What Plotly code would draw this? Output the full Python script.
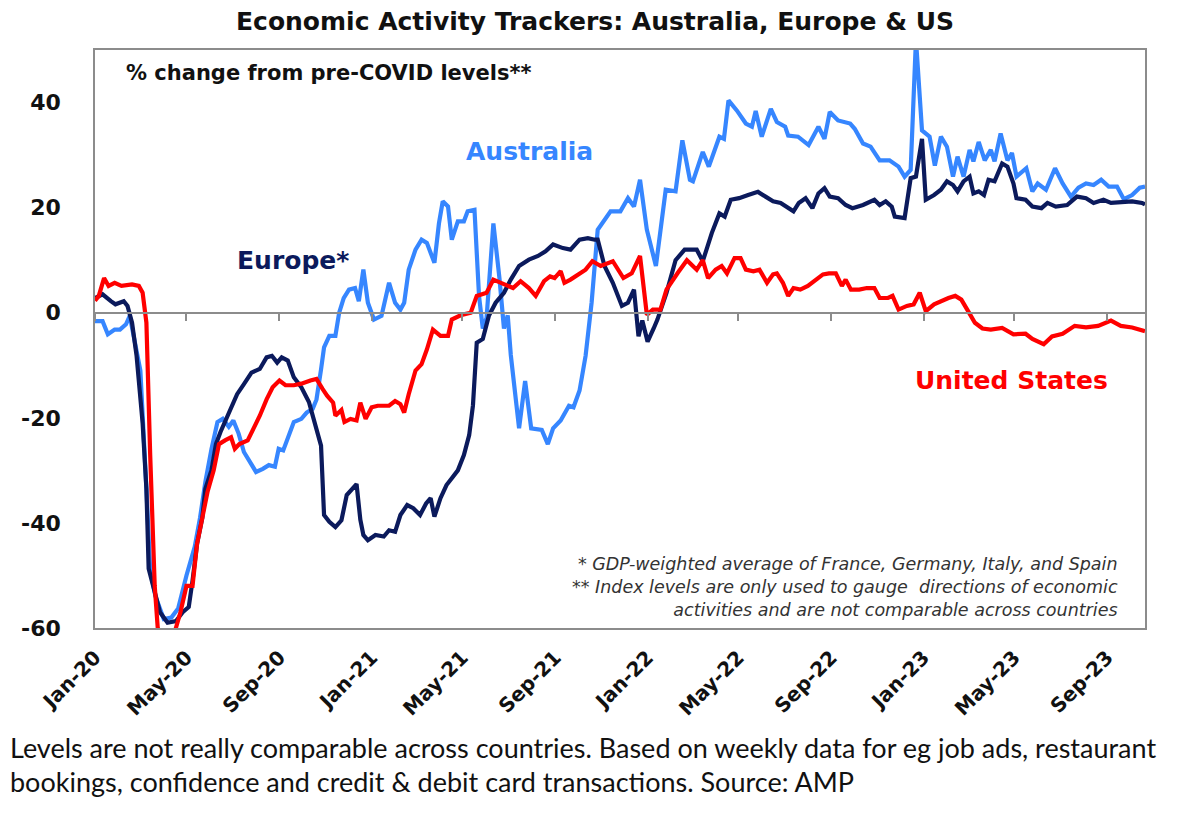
import plotly.graph_objects as go

# ---------------- data ----------------
AUSTRALIA = [
    ("2020-01-01", -1.6), ("2020-01-11", -1.6), ("2020-01-18", -4.1), ("2020-01-27", -3.2),
    ("2020-02-03", -3.2), ("2020-02-11", -2.2), ("2020-02-16", -0.6), ("2020-02-21", -4.0),
    ("2020-03-01", -11.0), ("2020-03-09", -33.5), ("2020-03-14", -49.0), ("2020-03-21", -54.0),
    ("2020-04-01", -58.3), ("2020-04-11", -58.0), ("2020-04-20", -56.3), ("2020-05-01", -50.0),
    ("2020-05-12", -44.5), ("2020-05-19", -39.0), ("2020-05-26", -32.2), ("2020-06-03", -26.0),
    ("2020-06-11", -20.8), ("2020-06-18", -20.2), ("2020-06-26", -21.7), ("2020-07-02", -20.5),
    ("2020-07-09", -23.0), ("2020-07-16", -26.5), ("2020-07-24", -28.4), ("2020-08-01", -30.3),
    ("2020-08-10", -29.7), ("2020-08-18", -29.0), ("2020-08-26", -29.3), ("2020-08-31", -25.9),
    ("2020-09-06", -26.2), ("2020-09-14", -23.3), ("2020-09-20", -20.8), ("2020-09-30", -20.2),
    ("2020-10-07", -19.0), ("2020-10-15", -18.3), ("2020-10-20", -16.5), ("2020-10-26", -10.8),
    ("2020-10-30", -6.6), ("2020-11-06", -4.4), ("2020-11-14", -4.4), ("2020-11-19", 0.0),
    ("2020-11-25", 2.8), ("2020-12-02", 4.4), ("2020-12-10", 4.7), ("2020-12-15", 2.2),
    ("2020-12-21", 8.2), ("2020-12-27", 1.9),
    ("2021-01-04", -1.3), ("2021-01-14", -0.6), ("2021-01-24", 5.7), ("2021-02-01", 1.9),
    ("2021-02-08", 0.6), ("2021-02-13", 1.9), ("2021-02-19", 8.2), ("2021-02-28", 12.0),
    ("2021-03-08", 13.9), ("2021-03-15", 13.3), ("2021-03-25", 9.5), ("2021-03-31", 17.0),
    ("2021-04-05", 21.2), ("2021-04-12", 20.2), ("2021-04-17", 13.9), ("2021-04-25", 17.4),
    ("2021-05-03", 17.4), ("2021-05-08", 19.3), ("2021-05-17", 19.6), ("2021-05-23", 3.2),
    ("2021-05-28", -3.0), ("2021-06-02", -1.0), ("2021-06-11", 17.0), ("2021-06-19", 6.6),
    ("2021-06-25", -3.0), ("2021-06-30", -0.5), ("2021-07-04", -8.0), ("2021-07-15", -22.0),
    ("2021-07-23", -13.0), ("2021-07-31", -22.0), ("2021-08-14", -22.3), ("2021-08-22", -25.0),
    ("2021-08-29", -22.0), ("2021-09-08", -20.5), ("2021-09-19", -17.7), ("2021-09-25", -18.0),
    ("2021-10-03", -14.8), ("2021-10-11", -8.2), ("2021-10-19", 2.0), ("2021-10-27", 15.8),
    ("2021-11-13", 19.3), ("2021-11-26", 19.3), ("2021-12-06", 21.8), ("2021-12-14", 20.2),
    ("2021-12-22", 25.3), ("2021-12-31", 15.8),
    ("2022-01-12", 8.9), ("2022-01-25", 23.4), ("2022-02-07", 23.1), ("2022-02-16", 32.8),
    ("2022-02-26", 25.3), ("2022-03-02", 25.0), ("2022-03-15", 30.6), ("2022-03-23", 27.8),
    ("2022-04-06", 33.5), ("2022-04-12", 33.1), ("2022-04-18", 40.4), ("2022-04-29", 38.5),
    ("2022-05-11", 36.0), ("2022-05-19", 35.4), ("2022-05-24", 38.4), ("2022-06-01", 33.5),
    ("2022-06-13", 38.8), ("2022-06-21", 36.3), ("2022-07-02", 35.4), ("2022-07-06", 33.7),
    ("2022-07-19", 33.5), ("2022-08-02", 31.9), ("2022-08-15", 35.4), ("2022-08-23", 33.1),
    ("2022-08-30", 38.2), ("2022-09-10", 36.6), ("2022-09-26", 36.0), ("2022-10-02", 35.0),
    ("2022-10-13", 32.2), ("2022-10-23", 31.6), ("2022-11-04", 29.0), ("2022-11-17", 29.0),
    ("2022-11-29", 27.8), ("2022-12-07", 25.9), ("2022-12-15", 27.2), ("2022-12-22", 52.0),
    ("2022-12-30", 34.7),
    ("2023-01-09", 33.5), ("2023-01-16", 28.0), ("2023-01-24", 33.5), ("2023-02-01", 31.6),
    ("2023-02-09", 25.9), ("2023-02-15", 29.7), ("2023-02-23", 25.9), ("2023-03-03", 31.0),
    ("2023-03-08", 28.8), ("2023-03-15", 32.5), ("2023-03-23", 29.0), ("2023-03-31", 31.0),
    ("2023-04-05", 28.8), ("2023-04-13", 34.1), ("2023-04-22", 29.0), ("2023-04-28", 30.4),
    ("2023-05-04", 25.9), ("2023-05-17", 27.5), ("2023-05-25", 23.1), ("2023-06-01", 24.6),
    ("2023-06-12", 23.4), ("2023-06-24", 27.5), ("2023-07-04", 24.6), ("2023-07-15", 22.1),
    ("2023-07-25", 23.8), ("2023-08-04", 24.6), ("2023-08-14", 24.3), ("2023-08-24", 25.3),
    ("2023-09-03", 24.0), ("2023-09-14", 24.0), ("2023-09-23", 21.6), ("2023-10-04", 22.4),
    ("2023-10-14", 23.8), ("2023-10-21", 24.0),
]

EUROPE = [
    ("2020-01-01", 2.8), ("2020-01-11", 3.5), ("2020-01-22", 2.2), ("2020-01-28", 1.6),
    ("2020-02-08", 2.2), ("2020-02-13", 1.3), ("2020-02-19", -1.9), ("2020-02-25", -8.2),
    ("2020-03-04", -21.0), ("2020-03-09", -33.5), ("2020-03-12", -48.7), ("2020-03-20", -53.0),
    ("2020-03-27", -57.0), ("2020-04-06", -59.0), ("2020-04-17", -58.7), ("2020-04-26", -57.0),
    ("2020-05-04", -56.0), ("2020-05-09", -51.0), ("2020-05-15", -44.0), ("2020-05-22", -39.0),
    ("2020-05-26", -33.5), ("2020-06-03", -30.0), ("2020-06-09", -25.0), ("2020-06-15", -22.7),
    ("2020-06-26", -19.0), ("2020-07-07", -15.5), ("2020-07-16", -13.6), ("2020-07-26", -11.4),
    ("2020-08-06", -10.7), ("2020-08-15", -8.5), ("2020-08-22", -8.2), ("2020-08-29", -9.5),
    ("2020-09-04", -8.5), ("2020-09-12", -9.1), ("2020-09-20", -12.3), ("2020-09-30", -14.2),
    ("2020-10-10", -17.0), ("2020-10-18", -21.0), ("2020-10-26", -25.3), ("2020-10-30", -38.5),
    ("2020-11-06", -39.8), ("2020-11-14", -40.8), ("2020-11-22", -39.5), ("2020-11-29", -34.7),
    ("2020-12-12", -32.6), ("2020-12-17", -39.4), ("2020-12-21", -42.3), ("2020-12-27", -43.3),
    ("2021-01-06", -42.3), ("2021-01-17", -42.6), ("2021-01-24", -41.4), ("2021-02-01", -41.7),
    ("2021-02-08", -38.5), ("2021-02-17", -36.6), ("2021-02-25", -37.2), ("2021-03-06", -38.5),
    ("2021-03-14", -36.3), ("2021-03-20", -35.3), ("2021-03-25", -38.8), ("2021-04-02", -35.3),
    ("2021-04-10", -32.8), ("2021-04-17", -31.5), ("2021-04-25", -30.0), ("2021-05-03", -27.1),
    ("2021-05-10", -23.3), ("2021-05-15", -17.6), ("2021-05-20", -5.7), ("2021-05-28", -5.0),
    ("2021-06-02", -1.9), ("2021-06-05", -0.6), ("2021-06-14", 1.9), ("2021-06-25", 3.8),
    ("2021-07-04", 6.3), ("2021-07-15", 8.9), ("2021-07-28", 10.1), ("2021-08-09", 10.8),
    ("2021-08-19", 11.7), ("2021-08-29", 13.0), ("2021-09-11", 12.3), ("2021-09-21", 12.0),
    ("2021-10-03", 13.9), ("2021-10-14", 14.2), ("2021-10-23", 13.9), ("2021-10-27", 13.9),
    ("2021-11-05", 8.9), ("2021-11-16", 5.7), ("2021-11-28", 1.3), ("2021-12-06", 1.9),
    ("2021-12-14", 4.4), ("2021-12-20", -4.5), ("2021-12-25", -1.5),
    ("2022-01-01", -5.5), ("2022-01-09", -3.0), ("2022-01-14", -1.3), ("2022-01-26", 3.8),
    ("2022-02-07", 10.0), ("2022-02-19", 12.0), ("2022-03-07", 12.0), ("2022-03-15", 9.8),
    ("2022-03-22", 13.3), ("2022-03-27", 15.2), ("2022-04-06", 18.9), ("2022-04-13", 18.3),
    ("2022-04-21", 21.5), ("2022-05-02", 21.8), ("2022-05-14", 22.4), ("2022-05-27", 23.0),
    ("2022-06-06", 22.1), ("2022-06-16", 21.2), ("2022-06-26", 20.9), ("2022-07-06", 19.9),
    ("2022-07-13", 19.3), ("2022-07-20", 20.9), ("2022-07-29", 21.8), ("2022-08-07", 19.9),
    ("2022-08-15", 22.7), ("2022-08-23", 23.7), ("2022-08-30", 22.1), ("2022-09-10", 21.8),
    ("2022-09-20", 20.5), ("2022-09-29", 19.9), ("2022-10-13", 20.5), ("2022-10-28", 21.5),
    ("2022-11-04", 20.5), ("2022-11-12", 21.2), ("2022-11-20", 20.2), ("2022-11-24", 18.3),
    ("2022-12-07", 18.0), ("2022-12-15", 25.6), ("2022-12-22", 25.9), ("2022-12-30", 33.1),
    ("2023-01-04", 21.5), ("2023-01-15", 22.4), ("2023-01-24", 23.4), ("2023-02-01", 25.0),
    ("2023-02-09", 24.3), ("2023-02-15", 23.1), ("2023-02-23", 25.0), ("2023-03-03", 25.9),
    ("2023-03-08", 22.7), ("2023-03-15", 23.1), ("2023-03-22", 22.4), ("2023-03-28", 25.3),
    ("2023-04-05", 25.0), ("2023-04-15", 28.4), ("2023-04-22", 27.8), ("2023-04-30", 24.6),
    ("2023-05-04", 21.8), ("2023-05-16", 21.5), ("2023-05-25", 20.2), ("2023-06-06", 19.9),
    ("2023-06-14", 20.9), ("2023-06-25", 20.2), ("2023-07-10", 20.5), ("2023-07-23", 22.1),
    ("2023-08-04", 21.8), ("2023-08-14", 20.9), ("2023-08-27", 21.5), ("2023-09-06", 20.9),
    ("2023-09-19", 21.0), ("2023-10-04", 21.2), ("2023-10-17", 20.9), ("2023-10-21", 20.6),
]

UNITED_STATES = [
    ("2020-01-01", 2.3), ("2020-01-06", 3.2), ("2020-01-13", 6.6), ("2020-01-19", 5.1),
    ("2020-01-27", 5.7), ("2020-02-05", 5.1), ("2020-02-19", 5.4), ("2020-02-28", 5.1),
    ("2020-03-04", 3.8), ("2020-03-09", -1.9), ("2020-03-14", -27.0), ("2020-03-20", -52.0),
    ("2020-03-24", -60.0), ("2020-04-01", -62.0), ("2020-04-11", -62.0), ("2020-04-17", -60.0),
    ("2020-04-23", -57.0), ("2020-05-01", -52.0), ("2020-05-09", -52.0), ("2020-05-15", -44.0),
    ("2020-05-22", -39.0), ("2020-05-29", -34.0), ("2020-06-06", -30.0), ("2020-06-13", -25.0),
    ("2020-06-21", -24.3), ("2020-06-29", -23.7), ("2020-07-04", -25.9), ("2020-07-10", -25.0),
    ("2020-07-21", -24.3), ("2020-07-29", -22.1), ("2020-08-06", -19.6), ("2020-08-15", -16.5),
    ("2020-08-23", -14.2), ("2020-09-01", -12.9), ("2020-09-09", -13.8), ("2020-09-20", -13.8),
    ("2020-09-30", -13.5), ("2020-10-12", -12.9), ("2020-10-20", -12.6), ("2020-10-28", -14.5),
    ("2020-11-03", -15.8), ("2020-11-11", -17.1), ("2020-11-14", -19.6), ("2020-11-22", -18.5),
    ("2020-11-26", -20.8), ("2020-12-04", -20.2), ("2020-12-12", -20.5), ("2020-12-17", -17.1),
    ("2020-12-24", -20.2),
    ("2021-01-01", -18.0), ("2021-01-09", -17.7), ("2021-01-24", -17.7), ("2021-02-01", -16.8),
    ("2021-02-08", -17.4), ("2021-02-13", -19.0), ("2021-02-19", -15.5), ("2021-02-28", -11.0),
    ("2021-03-08", -9.8), ("2021-03-15", -7.0), ("2021-03-23", -3.2), ("2021-04-02", -4.4),
    ("2021-04-12", -4.4), ("2021-04-17", -1.3), ("2021-04-30", -0.4), ("2021-05-12", 0.0),
    ("2021-05-20", 3.2), ("2021-06-02", 3.8), ("2021-06-11", 6.3), ("2021-06-25", 5.4),
    ("2021-07-07", 4.7), ("2021-07-17", 6.0), ("2021-07-28", 4.7), ("2021-08-06", 3.2),
    ("2021-08-17", 6.0), ("2021-08-25", 6.9), ("2021-08-31", 6.6), ("2021-09-08", 7.9),
    ("2021-09-13", 5.7), ("2021-09-21", 6.3), ("2021-10-01", 7.3), ("2021-10-11", 8.2),
    ("2021-10-20", 9.8), ("2021-10-31", 8.9), ("2021-11-16", 9.8), ("2021-11-30", 6.6),
    ("2021-12-11", 7.5), ("2021-12-22", 10.8), ("2021-12-31", -0.4),
    ("2022-01-08", 0.6), ("2022-01-18", 0.6), ("2022-01-26", 4.4), ("2022-02-10", 7.6),
    ("2022-02-22", 10.0), ("2022-03-07", 8.2), ("2022-03-15", 10.0), ("2022-03-22", 6.6),
    ("2022-04-01", 8.2), ("2022-04-09", 8.9), ("2022-04-16", 7.5), ("2022-04-26", 10.4),
    ("2022-05-04", 10.4), ("2022-05-11", 8.2), ("2022-05-21", 7.9), ("2022-05-29", 8.2),
    ("2022-06-08", 5.7), ("2022-06-16", 7.3), ("2022-06-21", 7.5), ("2022-06-29", 5.7),
    ("2022-07-06", 3.2), ("2022-07-13", 4.7), ("2022-07-22", 4.4), ("2022-08-01", 5.1),
    ("2022-08-10", 6.0), ("2022-08-21", 7.3), ("2022-08-29", 7.5), ("2022-09-07", 7.5),
    ("2022-09-15", 5.1), ("2022-09-20", 6.3), ("2022-09-27", 4.4), ("2022-10-08", 4.4),
    ("2022-10-18", 4.7), ("2022-10-28", 4.7), ("2022-11-04", 2.8), ("2022-11-15", 2.8),
    ("2022-11-21", 3.2), ("2022-11-29", 0.6), ("2022-12-10", 1.3), ("2022-12-19", 1.6),
    ("2022-12-27", 3.8),
    ("2023-01-04", 0.3), ("2023-01-15", 1.6), ("2023-01-24", 2.2), ("2023-02-03", 2.8),
    ("2023-02-12", 3.2), ("2023-02-20", 2.5), ("2023-03-01", 0.3), ("2023-03-10", -1.9),
    ("2023-03-20", -3.0), ("2023-03-31", -3.2), ("2023-04-15", -2.9), ("2023-04-30", -4.1),
    ("2023-05-16", -4.0), ("2023-05-25", -5.0), ("2023-06-09", -6.0), ("2023-06-20", -4.5),
    ("2023-07-04", -4.0), ("2023-07-20", -2.5), ("2023-08-04", -2.8), ("2023-08-20", -2.5),
    ("2023-09-06", -1.5), ("2023-09-19", -2.5), ("2023-10-04", -2.8), ("2023-10-21", -3.5),
]

TICK_DATES = ["2020-01-01", "2020-05-01", "2020-09-01", "2021-01-01", "2021-05-01", "2021-09-01",
              "2022-01-01", "2022-05-01", "2022-09-01", "2023-01-01", "2023-05-01", "2023-09-01"]
TICK_LABELS = ["Jan-20", "May-20", "Sep-20", "Jan-21", "May-21", "Sep-21",
               "Jan-22", "May-22", "Sep-22", "Jan-23", "May-23", "Sep-23"]
Y_TICKS = [-60, -40, -20, 0, 20, 40]
Y_RANGE = [-60, 50]
X_RANGE = ["2020-01-01", "2023-10-21"]

SERIES = [
    ("Australia", AUSTRALIA, "#3686FF"),
    ("Europe*", EUROPE, "#0B1A5C"),
    ("United States", UNITED_STATES, "#FF0000"),
]

# ---------------- figure ----------------
W, H = 1188, 819
ML, MR, MT, MB = 95, 43, 50, 191
PW, PH = W - ML - MR, H - MT - MB


def px_x(px):
    return (px - ML) / PW


def px_y(py):
    return (H - MB - py) / PH


BOLD = "DejaVu Sans"
AXIS_GREY = "#8c8c8c"

fig = go.Figure()
for name, data, color in SERIES:
    dates = [d for d, _ in data]
    vals = [v for _, v in data]
    fig.add_trace(go.Scatter(x=dates, y=vals, mode="lines", name=name,
                             line=dict(color=color, width=4.2),
                             showlegend=False, hoverinfo="skip"))

# helper trace so the zero-line axis (with its tick marks) is drawn
fig.add_trace(go.Scatter(x=[], y=[], xaxis="x2", showlegend=False, hoverinfo="skip"))

zero_pos = (0 - Y_RANGE[0]) / (Y_RANGE[1] - Y_RANGE[0])

fig.update_layout(
    width=W, height=H,
    margin=dict(l=ML, r=MR, t=MT, b=MB),
    paper_bgcolor="white", plot_bgcolor="white",
    xaxis=dict(type="date", range=X_RANGE, tickvals=TICK_DATES, ticktext=TICK_LABELS,
               tickangle=-45, ticks="", ticklabelstandoff=8,
               tickfont=dict(family=BOLD, size=20, color="#111111", weight="bold"),
               showline=True, linecolor=AXIS_GREY, linewidth=1.6, mirror=True,
               showgrid=False, zeroline=False),
    xaxis2=dict(type="date", range=X_RANGE, overlaying="x", anchor="free", position=zero_pos,
                tickvals=TICK_DATES, ticks="outside", ticklen=7, tickwidth=1.6,
                tickcolor=AXIS_GREY, showticklabels=False,
                showline=True, linecolor=AXIS_GREY, linewidth=1.6,
                showgrid=False, zeroline=False),
    yaxis=dict(range=Y_RANGE, tickvals=Y_TICKS, ticktext=[str(v) for v in Y_TICKS],
               ticks="", ticklabelstandoff=28,
               tickfont=dict(family=BOLD, size=22, color="#111111", weight="bold"),
               showline=True, linecolor=AXIS_GREY, linewidth=1.6, mirror=True,
               showgrid=False, zeroline=False),
)

ann = []
# title
ann.append(dict(text="Economic Activity Trackers: Australia, Europe & US",
                x=px_x(595), y=px_y(22), xref="paper", yref="paper",
                xanchor="center", yanchor="middle", showarrow=False,
                font=dict(family=BOLD, size=25, color="#111111", weight="bold")))
ann.append(dict(text="% change from pre-COVID levels**",
                x=px_x(124), y=px_y(73), xref="paper", yref="paper",
                xanchor="left", yanchor="middle", showarrow=False,
                font=dict(family=BOLD, size=21, color="#111111", weight="bold")))
# series labels (placed in data coordinates)
ann.append(dict(text="Australia", x="2021-07-29", y=30.7, xref="x", yref="y",
                xanchor="center", yanchor="middle", showarrow=False,
                font=dict(family=BOLD, size=25, color="#3686FF", weight="bold")))
ann.append(dict(text="Europe*", x="2020-09-19", y=10.0, xref="x", yref="y",
                xanchor="center", yanchor="middle", showarrow=False,
                font=dict(family=BOLD, size=25, color="#0B1A5C", weight="bold")))
ann.append(dict(text="United States", x="2023-04-28", y=-12.9, xref="x", yref="y",
                xanchor="center", yanchor="middle", showarrow=False,
                font=dict(family=BOLD, size=25, color="#FF0000", weight="bold")))
# footnotes (one right-aligned block)
FOOT = ["* GDP-weighted average of France, Germany, Italy, and Spain",
        "** Index levels are only used to gauge  directions of economic",
        "activities and are not comparable across countries"]
ann.append(dict(text="<br>".join(FOOT), x=px_x(1120), y=px_y(587), xref="paper", yref="paper",
                xanchor="right", yanchor="middle", align="right", showarrow=False,
                font=dict(family="DejaVu Sans", size=17.5, color="#333333", style="italic")))
# caption below chart
CAPTION = ["Levels are not really comparable across countries. Based on weekly data for eg job ads, restaurant",
           "bookings, confidence and credit & debit card transactions. Source: AMP"]
for line, py in zip(CAPTION, [747, 782]):
    ann.append(dict(text=line, x=px_x(8), y=px_y(py), xref="paper", yref="paper",
                    xanchor="left", yanchor="middle", showarrow=False,
                    font=dict(family="Lato", size=27, color="#111111")))

fig.update_layout(annotations=ann)

fig.write_html("out.html", config={"displayModeBar": False},
               post_script="document.body.style.margin='0';")
